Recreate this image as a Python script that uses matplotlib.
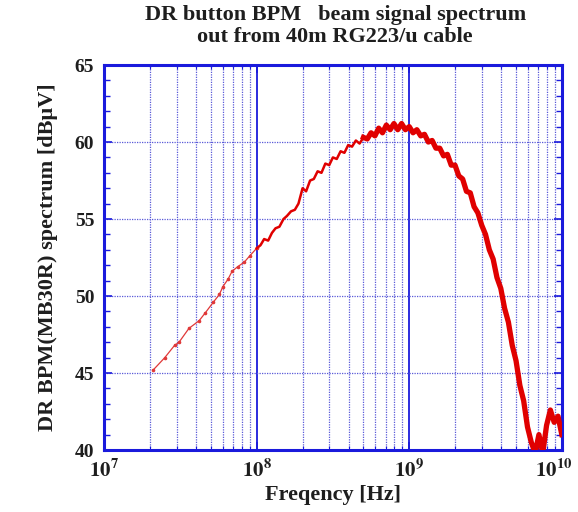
import matplotlib
matplotlib.use("Agg")
import matplotlib.pyplot as plt
import matplotlib.transforms as mtransforms
from matplotlib.ticker import LogLocator, FixedLocator, NullFormatter

# ---- data ----
freq_low_hz = [2.1e7, 2.5e7, 2.9e7, 3.1e7, 3.6e7, 4.2e7, 4.6e7, 5.2e7, 5.7e7,
               6.0e7, 6.5e7, 6.9e7, 7.5e7, 8.3e7, 9.0e7, 1.0e8]
level_low = [45.2, 46.0, 46.8, 47.0, 47.9, 48.4, 48.9, 49.6, 50.1,
             50.6, 51.1, 51.6, 51.9, 52.2, 52.6, 53.1]

freq_high_ghz = [0.100, 0.106, 0.112, 0.119, 0.126, 0.133, 0.141, 0.150, 0.158, 0.168,
                 0.178, 0.188, 0.200, 0.211, 0.224, 0.237, 0.251, 0.266, 0.282, 0.299,
                 0.316, 0.335, 0.355, 0.376, 0.398, 0.422, 0.447, 0.473, 0.501, 0.531,
                 0.562, 0.596, 0.631, 0.668, 0.708, 0.750, 0.794, 0.841, 0.891, 0.944,
                 1.000, 1.059, 1.122, 1.189, 1.259, 1.334, 1.413, 1.496, 1.585, 1.679,
                 1.778, 1.884, 1.995, 2.113, 2.239, 2.371, 2.512, 2.661, 2.818, 2.985,
                 3.162, 3.350, 3.548, 3.758, 3.981, 4.217, 4.467, 4.732, 5.012, 5.309,
                 5.623, 5.957, 6.310, 6.683, 7.079, 7.499, 7.943, 8.414, 8.913, 9.441, 10.0]
level_high = [53.1, 53.3, 53.7, 53.6, 54.1, 54.4, 54.5, 55.0, 55.2, 55.5,
              55.6, 56.0, 57.0, 56.8, 57.5, 57.6, 58.1, 58.0, 58.6, 58.5,
              59.0, 58.9, 59.4, 59.3, 59.8, 59.7, 60.1, 59.9, 60.3, 60.2,
              60.6, 60.4, 60.9, 60.6, 61.1, 60.8, 61.2, 60.8, 61.2, 60.8,
              61.0, 60.6, 60.8, 60.4, 60.5, 60.0, 60.1, 59.6, 59.6, 59.1,
              59.2, 58.5, 58.5, 57.8, 57.6, 56.8, 56.7, 55.8, 55.4, 54.6,
              54.0, 53.0, 52.4, 51.2, 50.5, 49.2, 48.3, 46.8, 45.8, 44.2,
              43.2, 41.5, 40.5, 39.8, 41.0, 39.8, 41.6, 42.6, 41.8, 42.2, 41.0]

y_ticks = [40, 45, 50, 55, 60, 65]
x_ticks = [1e7, 1e8, 1e9, 1e10]
x_tick_labels = [r"$\mathbf{10^{7}}$", r"$\mathbf{10^{8}}$", r"$\mathbf{10^{9}}$", r"$\mathbf{10^{10}}$"]

title_text = "DR button BPM   beam signal spectrum\nout from 40m RG223/u cable"
x_label = "Freqency [Hz]"
y_label = "DR BPM(MB30R) spectrum [dB\u03bcV]"

# ---- style ----
plt.rcParams["font.family"] = ["Liberation Serif", "DejaVu Serif"]
plt.rcParams["mathtext.fontset"] = "stix"
blue = "#1a1adc"
grid_blue = "#5a5ad8"
text_col = "#1e1e1e"

fig = plt.figure(figsize=(5.78, 5.12), dpi=100)
ax = fig.add_axes([0.180, 0.121, 0.792, 0.752])

ax.set_xscale("log")
ax.set_xlim(1e7, 1e10)
ax.set_ylim(40, 65)

# grid
ax.xaxis.set_minor_locator(LogLocator(base=10, subs=range(2, 10)))
ax.xaxis.set_minor_formatter(NullFormatter())
ax.grid(True, which="major", axis="x", color=blue, linestyle="-", linewidth=1.3)
ax.grid(True, which="minor", axis="x", color=grid_blue, linestyle=(0, (1, 1)), linewidth=0.9)
ax.grid(True, which="major", axis="y", color=grid_blue, linestyle=(0, (1, 1)), linewidth=0.9)
ax.set_axisbelow(True)

# data
freq_high_hz = [f * 1e9 for f in freq_high_ghz]
split = 28
ax.plot(freq_low_hz, level_low, color="#e03838", linewidth=0.9,
        marker="o", markersize=1.6, zorder=3)
ax.plot(freq_high_hz[:split + 1], level_high[:split + 1], color="#e00000",
        linewidth=1.8, zorder=3)
ax.plot(freq_high_hz[split:], level_high[split:], color="#e00000",
        linewidth=3.8, zorder=3)

# ticks
ax.set_yticks(y_ticks)
ax.yaxis.set_minor_locator(FixedLocator(list(range(40, 66))))
ax.set_xticks(x_ticks)
ax.set_xticklabels(x_tick_labels)
ax.tick_params(axis="both", which="both", direction="in", color=blue,
               top=True, right=True)
ax.tick_params(axis="both", which="major", length=6, width=1.2, labelsize=14, pad=7)
ax.tick_params(axis="x", which="minor", length=3, width=0.8)
ax.tick_params(axis="y", which="minor", length=4, width=1.0)
for lab in ax.get_yticklabels():
    lab.set_fontweight("bold")
    lab.set_color(text_col)
xlabs = ax.get_xticklabels()
for lab in xlabs:
    lab.set_color(text_col)
    lab.set_fontsize(15)
# keep the last label inside the figure
xlabs[-1].set_transform(xlabs[-1].get_transform() +
                        mtransforms.ScaledTranslation(-6 / 72, 0, fig.dpi_scale_trans))

for sp in ax.spines.values():
    sp.set_color(blue)
    sp.set_linewidth(2.2)

ax.set_xlabel(x_label, fontsize=16, fontweight="bold", color=text_col, labelpad=2)
ax.set_ylabel(y_label, fontsize=16, fontweight="bold", color=text_col, labelpad=12)
fig.text(0.580, 0.990, title_text, ha="center", va="top", fontsize=16,
         fontweight="bold", color=text_col, linespacing=1.1)

fig.savefig("out.png", dpi=100)
